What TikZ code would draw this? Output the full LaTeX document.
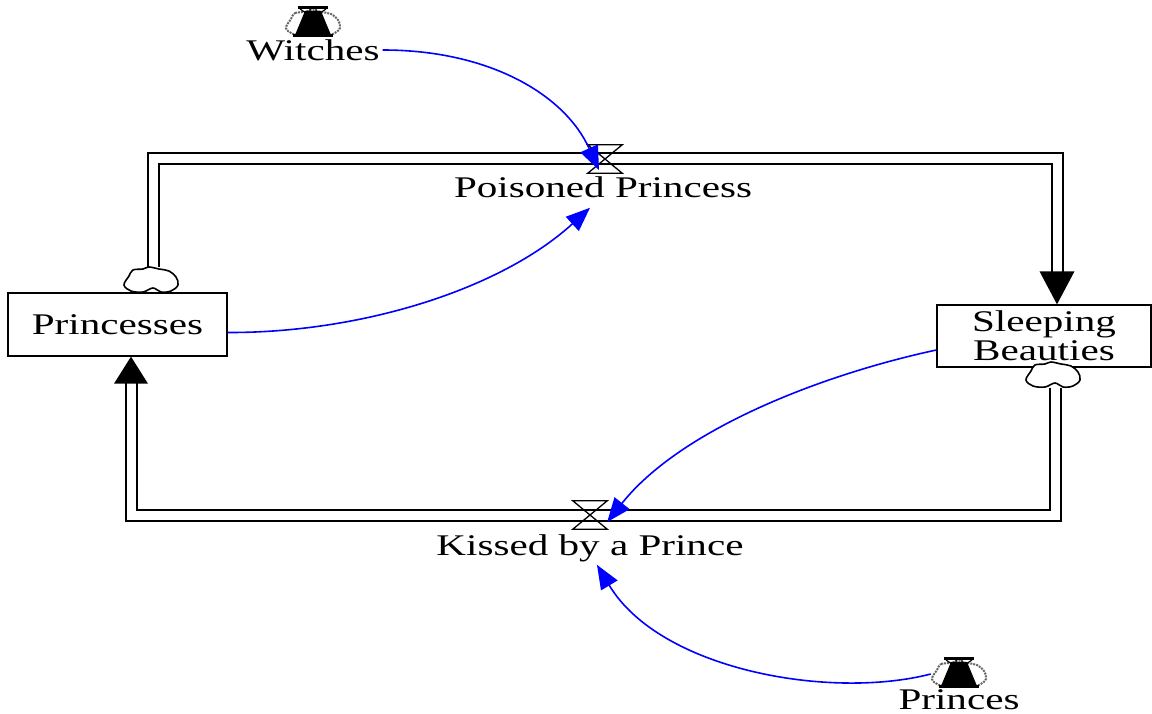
\documentclass[tikz,border=0pt]{standalone}
\usepackage{fontspec}
\setmainfont{Liberation Serif}[FakeStretch=1.37]
\usetikzlibrary{arrows.meta}
\definecolor{linkblue}{RGB}{0,0,255}

\begin{document}
\begin{tikzpicture}[x=1pt, y=-1pt,
    varname/.style={inner sep=3pt, font=\fontsize{30}{29}\selectfont, align=center},
    stock/.style={draw, line width=1.3pt, minimum width=219pt, minimum height=63pt, inner sep=0pt, font=\fontsize{30}{29}\selectfont, align=center},
    pipe/.style={draw, double, double distance=9pt, line width=2pt, line join=miter},
    link/.style={linkblue, line width=1.6pt, -{Triangle[length=24pt, width=19pt]}},
    sinkarea/.style={inner sep=0pt, minimum width=56pt, minimum height=26pt},
    valve/.style={inner sep=0pt, minimum width=34pt, minimum height=28pt},
    blob/.pic={
      \path[pic actions] plot[smooth cycle, tension=0.6] coordinates {(-22,-4) (-18,-10) (-8,-11) (-2,-13) (8,-11) (18,-9) (25,-3) (27,5) (20,11) (10,12) (2,8) (-8,12) (-20,11) (-27,5)};
    },
    shadowicon/.pic={
      \pic[draw=black!60, densely dotted, line width=2pt] at (0,0) {blob};
      \node[sinkarea] (-cloud) at (0,0) {};
      \fill (-15,-17) rectangle (15,-14);
      \fill (-8,-12) -- (8,-12) -- (18,12) -- (-18,12) -- cycle;
      \fill (-20,11) rectangle (20,14);
      \draw[line width=1.2pt] (-13,-14) -- (-7,-10) (13,-14) -- (7,-10) (-3,-14) -- (-3,-11) (3,-14) -- (3,-11);
    }]
    \useasboundingbox (0,0) rectangle (1152,714);

    % Stocks
    \node[stock] (princesses) at (117.5,324.5) {Princesses};
    \node[stock, minimum width=214pt, minimum height=62pt] (beauties) at (1044,336) {Sleeping\\Beauties};

    % Flow valves and their names
    \node[valve] (valveP) at (605,159) {};
    \node[varname] (poisoned) at (603,187) {Poisoned Princess};
    \node[valve] (valveK) at (590,515) {};
    \node[varname] (kissed) at (590,548) {Kissed by a Prince};

    % Clouds at the pipe ends
    \node[sinkarea] (cloudP) at (151,280) {};
    \node[sinkarea] (cloudB) at (1053,375) {};
    \coordinate (topR) at (1057,272);
    \coordinate (botL) at (131,383);

    % Pipes
    \draw[pipe] ([xshift=2pt]cloudP.north) |- (valveP.center) -| (topR);
    \fill (beauties.north -| topR) -- ++(-17.5,-33) -- ++(35,0) -- cycle;
    \draw[pipe] ([xshift=2pt]cloudB.south) |- (valveK.center) -| (botL);
    \fill (princesses.south -| botL) -- ++(-17,27) -- ++(34,0) -- cycle;
    \pic[draw, fill=white, line width=1.6pt] at (cloudP) {blob};
    \pic[draw, fill=white, line width=1.6pt] at (cloudB) {blob};

    % Valve bow ties
    \draw[line width=1.3pt] (valveP.north west) -- (valveP.north east) -- (valveP.south west) -- (valveP.south east) -- cycle;
    \draw[line width=1.3pt] (valveK.north west) -- (valveK.north east) -- (valveK.south west) -- (valveK.south east) -- cycle;

    % Outside variables
    \pic (witchesIcon) at (313,23) {shadowicon};
    \node[varname] (witches) at (313,50) {Witches};
    \pic (princesIcon) at (959,674) {shadowicon};
    \node[varname] (princes) at (959,700) {Princes};

    % Links
    \draw[link] (witches.east) .. controls (490,50) and (565,95) .. ([xshift=-6pt,yshift=3pt]valveP.south);
    \draw[link] ([yshift=-8pt]princesses.east) .. controls (360,333) and (500,290) .. ([xshift=-13pt,yshift=-7pt]poisoned.south);
    \draw[link] ([yshift=-14pt]beauties.west) .. controls (820,375) and (680,430) .. ([yshift=-7pt]valveK.east);
    \draw[link] (princesIcon-cloud.west) .. controls (830,700) and (660,670) .. ([xshift=7pt]kissed.south);
\end{tikzpicture}
\end{document}
